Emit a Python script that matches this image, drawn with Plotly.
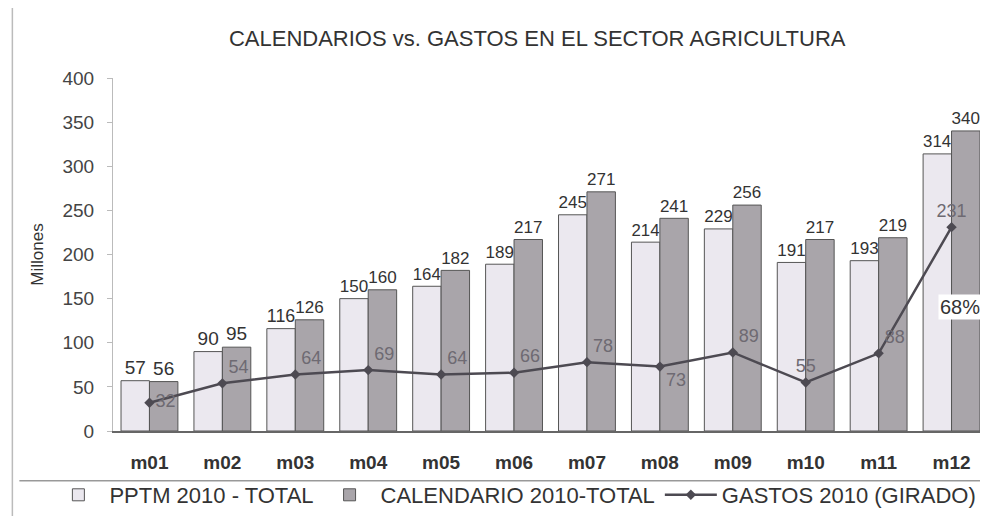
import plotly.graph_objects as go

months = ["m01", "m02", "m03", "m04", "m05", "m06", "m07", "m08", "m09", "m10", "m11", "m12"]
pptm = [57, 90, 116, 150, 164, 189, 245, 214, 229, 191, 193, 314]
calendario = [56, 95, 126, 160, 182, 217, 271, 241, 256, 217, 219, 340]
gastos = [32, 54, 64, 69, 64, 66, 78, 73, 89, 55, 88, 231]
gastos_pos = ["middle right", "top right", "top right", "top right", "top right", "top right",
              "top right", "bottom right", "top right", "top center", "top right", "top center"]
y_ticks = [0, 50, 100, 150, 200, 250, 300, 350, 400]

FONT = "Arial, Liberation Sans, sans-serif"

fig = go.Figure()
fig.add_trace(go.Bar(
    x=months, y=pptm, name="PPTM 2010 - TOTAL",
    marker=dict(color="#ebe8ef", line=dict(color="#555555", width=1)),
    text=pptm, textposition="outside", cliponaxis=False,
    textfont=dict(size=19, color="#333333", family=FONT),
))
fig.add_trace(go.Bar(
    x=months, y=calendario, name="CALENDARIO 2010-TOTAL",
    marker=dict(color="#a9a5aa", line=dict(color="#555555", width=1)),
    text=calendario, textposition="outside", cliponaxis=False,
    textfont=dict(size=19, color="#333333", family=FONT),
))
fig.add_trace(go.Scatter(
    x=months, y=gastos, name="GASTOS 2010 (GIRADO)",
    mode="lines+markers+text",
    line=dict(color="#4d4a52", width=2.5),
    marker=dict(symbol="diamond", size=8, color="#4d4a52"),
    text=gastos, textposition=gastos_pos, cliponaxis=False,
    textfont=dict(size=18, color="#6e6a72", family=FONT),
))

fig.add_annotation(x="m12", y=140, text="68%", showarrow=False, xshift=8,
                   font=dict(size=20, color="#333333", family=FONT),
                   bgcolor="white")

fig.update_layout(
    width=980, height=508,
    margin=dict(l=105, r=0, t=70, b=84),
    paper_bgcolor="white", plot_bgcolor="white",
    barmode="group", bargap=0.22, bargroupgap=0,
    title=dict(text="CALENDARIOS vs. GASTOS EN EL SECTOR AGRICULTURA",
               x=0.54, xanchor="center", y=0.941, yanchor="middle",
               font=dict(size=22, color="#333333", family=FONT)),
    font=dict(family=FONT, color="#333333"),
    showlegend=True,
    legend=dict(orientation="h", x=-0.075, xanchor="left", y=-0.181, yanchor="middle",
                font=dict(size=22, color="#333333", family=FONT),
                itemwidth=52, tracegroupgap=0, bgcolor="rgba(0,0,0,0)"),
    xaxis=dict(showline=True, linecolor="#666666", linewidth=1.5, ticks="",
               range=[-0.5, 11.5],
               tickfont=dict(size=19, color="#333333", family=FONT, weight="bold"),
               ticklabelstandoff=13, showgrid=False),
    yaxis=dict(range=[0, 400], tickvals=y_ticks, showline=True, linecolor="#bbbbbb",
               ticks="outside", tickcolor="#bbbbbb", ticklen=5, showgrid=False, zeroline=False,
               ticklabelstandoff=9,
               tickfont=dict(size=19, color="#444444", family=FONT),
               title=dict(text="Millones", font=dict(size=17, color="#333333", family=FONT), standoff=14)),
    shapes=[
        dict(type="line", xref="paper", yref="paper", x0=-0.107, x1=1.0, y0=-0.141, y1=-0.141,
             line=dict(color="#999999", width=1.5)),
        dict(type="line", xref="paper", yref="paper", x0=-0.115, x1=-0.115, y0=-0.25, y1=1.2,
             line=dict(color="#bbbbbb", width=1.5)),
    ],
)

fig.write_html("out.html")
